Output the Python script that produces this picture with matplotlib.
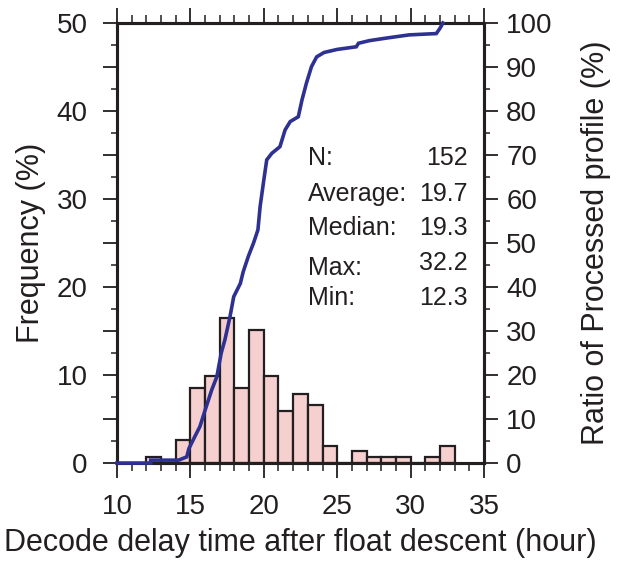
import matplotlib
matplotlib.use("Agg")
import matplotlib.pyplot as plt
from matplotlib.ticker import MultipleLocator

plt.rcParams['font.family'] = ['Liberation Sans', 'DejaVu Sans']

# --------------------------
# Data
# --------------------------
bin_left = [12, 13, 14, 15, 16, 17, 18, 19, 20, 21, 22, 23, 24, 25, 26, 27, 28, 29, 30, 31, 32]
bin_count = [1, 0, 4, 13, 15, 25, 13, 23, 15, 9, 12, 10, 3, 0, 2, 1, 1, 1, 0, 1, 3]
n_total = 152

# cumulative ratio of processed profiles (vertices of the curve)
cum_x = [10.0, 12.3, 12.3, 14.2, 14.75, 14.9, 15.3, 15.65, 16.0, 16.45, 16.8, 17.1, 17.35,
         17.7, 17.95, 18.4, 18.6, 18.95, 19.3, 19.6, 19.75, 20.0, 20.2, 20.55, 21.1, 21.45,
         21.8, 22.35, 22.6, 22.9, 23.25, 23.6, 24.1, 25.0, 26.3, 26.45, 27.2, 28.4, 29.9,
         31.75, 32.0, 32.2]
cum_y = [0.0, 0.0, 0.66, 0.66, 1.4, 3.3, 6.0, 8.3, 12.0, 16.6, 19.6, 25.0, 28.0,
         33.3, 37.8, 40.8, 43.5, 47.0, 50.0, 53.0, 58.3, 64.3, 68.9, 70.4, 71.9, 75.7,
         77.6, 78.7, 82.5, 86.3, 90.1, 92.3, 93.3, 94.0, 94.6, 95.4, 96.0, 96.6, 97.3,
         97.6, 98.8, 100.0]

stat_names = ["N:", "Average:", "Median:", "Max:", "Min:"]
stat_values = ["152", "19.7", "19.3", "32.2", "12.3"]

INK = '#231F20'

# --------------------------
# Figure
# --------------------------
fig = plt.figure(figsize=(6.18, 5.64), dpi=100)
ax = fig.add_axes([0.1893, 0.179, 0.5939, 0.7802])

freq = [c / n_total * 100 for c in bin_count]
ax.bar(bin_left, freq, width=1.0, align='edge', color='#F6CFCF',
       edgecolor=INK, linewidth=1.6, zorder=2)

ax.set_xlim(10, 35)
ax.set_ylim(0, 50)

ax2 = ax.twinx()
ax2.plot(cum_x, cum_y, color='#2E3192', linewidth=2.6, zorder=3,
         solid_joinstyle='miter', clip_on=False)
ax2.set_ylim(0, 100)

# ticks
ax.xaxis.set_major_locator(MultipleLocator(5))
ax.xaxis.set_minor_locator(MultipleLocator(1))
ax.yaxis.set_minor_locator(MultipleLocator(2.5))
ax.set_yticks(range(0, 55, 5))
ax.set_yticklabels([str(v) if v % 10 == 0 else '' for v in range(0, 55, 5)])
ax.tick_params(axis='both', which='major', direction='out', length=10, width=1.3,
               labelsize=20, colors=INK, top=True)
ax.tick_params(axis='both', which='minor', direction='out', length=4.5, width=1.1,
               top=True, colors=INK)
ax.tick_params(axis='y', which='major', pad=11)
ax.tick_params(axis='x', which='major', length=11, pad=11)
ax.tick_params(axis='x', which='minor', length=5.5)

ax2.yaxis.set_major_locator(MultipleLocator(10))
ax2.yaxis.set_minor_locator(MultipleLocator(5))
ax2.tick_params(axis='y', which='major', direction='out', length=10, width=1.3,
                labelsize=20, colors=INK, pad=6)
ax2.tick_params(axis='y', which='minor', direction='out', length=4.5, width=1.1,
                colors=INK)

for a in (ax, ax2):
    for s in a.spines.values():
        s.set_linewidth(2.2)
        s.set_color(INK)

ax.set_xlabel("Decode delay time after float descent (hour)", fontsize=22,
              color=INK, labelpad=6)
ax.set_ylabel("Frequency (%)", fontsize=22, color=INK, labelpad=8)
ax2.set_ylabel("Ratio of Processed profile (%)", fontsize=22, color=INK,
               labelpad=20)

# stats box
name_y = [33.86, 29.77, 25.9, 21.36, 17.95]
value_y = [33.86, 29.77, 25.9, 21.93, 17.95]
for name, val, yn, yv in zip(stat_names, stat_values, name_y, value_y):
    ax.text(23.0, yn, name, fontsize=18, color=INK, va='baseline', ha='left', zorder=5)
    ax.text(33.9, yv, val, fontsize=18, color=INK, va='baseline', ha='right', zorder=5)

fig.savefig("out.png", dpi=100)
